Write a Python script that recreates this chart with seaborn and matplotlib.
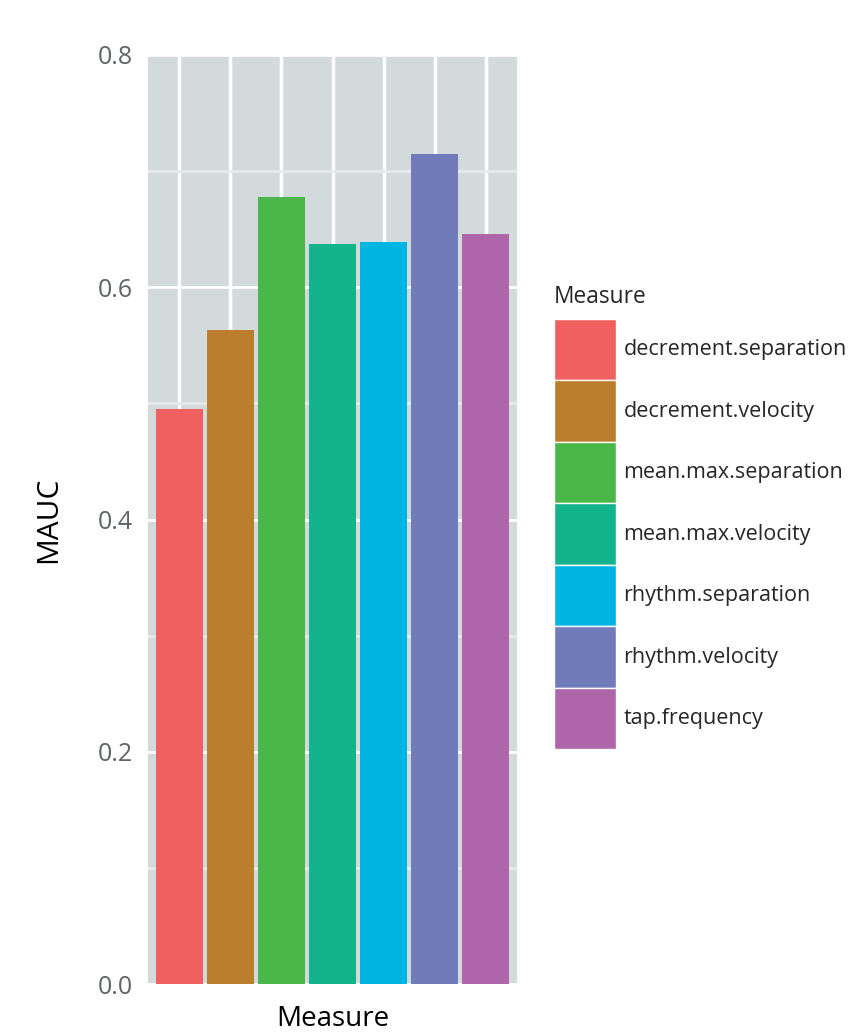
"""Bar chart of MAUC by measure, ggplot-like look."""
import matplotlib
matplotlib.use('Agg')
from matplotlib import pyplot as plt
import pandas as pd
import seaborn as sns

measures = ['decrement.separation', 'decrement.velocity', 'mean.max.separation',
            'mean.max.velocity', 'rhythm.separation', 'rhythm.velocity',
            'tap.frequency']
mauc = [0.495, 0.563, 0.678, 0.637, 0.639, 0.715, 0.646]
colors = ['#f06060', '#bb7e2c', '#4ab748', '#13b38b', '#00b5e1', '#727bba', '#ae65aa']
y_major = [0.0, 0.2, 0.4, 0.6, 0.8]
y_minor = [0.1, 0.3, 0.5, 0.7]

W, H = 852, 1034


def main():
    df = pd.DataFrame({'Measure': measures, 'MAUC': mauc,
                       'group': ['Measure'] * len(measures)})

    sns.set_style('white')
    plt.rcParams['font.family'] = ['Open Sans', 'DejaVu Sans']

    fig = plt.figure(figsize=(W / 100, H / 100), dpi=100)
    ax = fig.add_axes([148 / W, 1 - 984 / H, 369 / W, 929 / H])
    ax.set_facecolor('#d3dadc')

    sns.barplot(data=df, x='group', y='MAUC', hue='Measure', palette=colors,
                width=0.8, gap=0.08, saturation=1, linewidth=0, ax=ax, zorder=3)

    ax.set_xlim(-0.4123, 0.4123)
    ax.set_ylim(0, 0.8)

    # vertical grid lines sit on the bar centres
    centres = [p.get_x() + p.get_width() / 2 for p in ax.patches
               if p.get_height() > 0]
    ax.set_xticks(centres)
    ax.set_xticklabels([])
    ax.set_yticks(y_major)
    ax.set_yticklabels(['{:.1f}'.format(v) for v in y_major])
    ax.set_yticks(y_minor, minor=True)
    ax.tick_params(axis='both', which='both', length=0)
    ax.tick_params(axis='y', labelsize=18, labelcolor='#5d6366', pad=11)

    ax.grid(axis='x', color='white', linewidth=2.5, zorder=1)
    ax.grid(axis='y', which='major', color='white', linewidth=2, zorder=1)
    ax.grid(axis='y', which='minor', color='#e6eaeb', linewidth=2, zorder=1)
    ax.set_axisbelow(True)
    for s in ax.spines.values():
        s.set_visible(False)

    ax.set_xlabel('Measure', fontsize=20, color='black')
    ax.xaxis.set_label_coords(0.5, -0.023)
    ax.xaxis.label.set_va('top')
    ax.set_ylabel('MAUC', fontsize=21.5, color='black')
    ax.yaxis.set_label_coords(-0.23, 0.5)

    fs = 15.5
    fs_px = fs * 100 / 72
    key_w = 61.5 / fs_px
    # legend row height = fs * (0.65 * handleheight + 0.245)
    key_h = (61.5 / fs_px - 0.245) / 0.65
    sns.move_legend(ax, 'upper left', bbox_to_anchor=(554 / W, 1 - 285 / H),
                    bbox_transform=fig.transFigure, frameon=False,
                    title='Measure', fontsize=fs, title_fontsize=16.4,
                    handlelength=key_w, handleheight=key_h, labelspacing=0,
                    handletextpad=8 / fs_px, borderpad=0, borderaxespad=0)
    leg = ax.get_legend()
    leg._legend_box.align = 'left'
    leg._legend_box.sep = 7
    for h in leg.get_patches():
        h.set_edgecolor('white')
        h.set_linewidth(1)

    fig.savefig('out.png', dpi=100)


if __name__ == '__main__':
    main()
